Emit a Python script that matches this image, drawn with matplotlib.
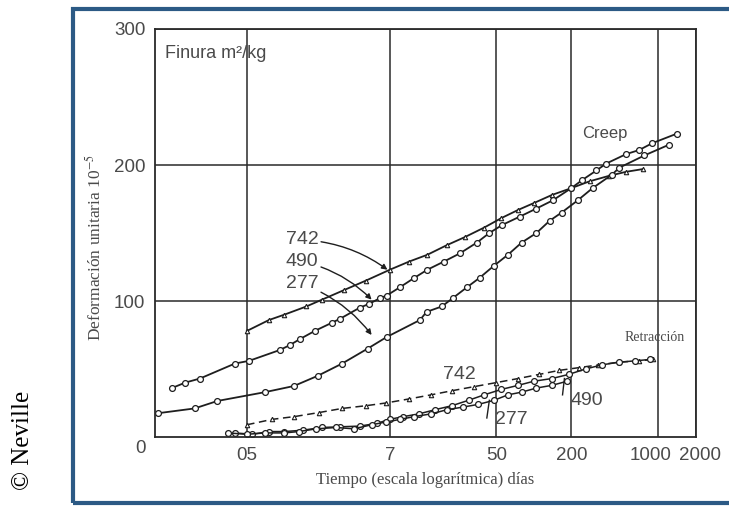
import matplotlib
matplotlib.use("Agg")
import matplotlib.pyplot as plt
import matplotlib.transforms as mtransforms
from matplotlib.patches import Rectangle

# ---------------- data ----------------
xtick_vals = [0.5, 7, 50, 200, 1000, 2000]
xtick_labels = ["05", "7", "50", "200", "1000", "2000"]
ytick_vals = [100, 200, 300]
ytick_labels = ["100", "200", "300"]

# Creep curves (days, deformation 1e-5)
creep_742_days = [0.5, 0.75, 1.0, 1.5, 2.0, 3.0, 4.5, 7, 10, 14, 20, 28, 40, 55, 75, 100, 140, 200, 280, 400, 550, 750]
creep_742_vals = [78, 86, 90, 96, 101, 108, 115, 123, 129, 134, 141, 147, 154, 161, 167, 172, 178, 183, 188, 192, 195, 197]

creep_490_days = [0.125, 0.16, 0.21, 0.40, 0.52, 0.92, 1.1, 1.33, 1.75, 2.4, 2.8, 4.0, 4.8, 5.8, 6.6, 8.4, 11, 14, 19, 25.5,
                  35, 44, 56, 77, 105, 142, 200, 245, 318, 380, 550, 700, 890, 1400]
creep_490_vals = [36, 40, 43, 54, 56, 64, 67.5, 72, 78, 84, 87, 95, 98, 102, 104, 110, 117, 123, 129, 135,
                  143, 150, 156, 162, 168, 174, 183, 189, 196, 201, 208, 211, 216, 223]

creep_277_days = [0.097, 0.19, 0.29, 0.70, 1.19, 1.85, 2.9, 4.65, 6.6, 12.2, 13.8, 18.3, 22.3, 29, 36.7, 48, 62, 80,
                  105, 134, 167, 225, 296, 425, 485, 770, 1220]
creep_277_vals = [17.5, 21, 26.5, 33, 37.5, 45, 54, 65, 73.5, 86, 92, 96, 102, 110, 117, 126, 134, 143,
                  150, 159, 165, 174, 183, 193, 198, 207, 215]

# Shrinkage curves
shr_742_days = [0.5, 0.8, 1.2, 1.9, 2.9, 4.5, 6.5, 10, 15, 22, 33, 50, 75, 110, 160, 230, 330, 480, 700, 900]
shr_742_vals = [9, 13, 15, 18, 21, 23, 25, 28, 31, 34, 37, 40, 43, 46, 49, 51, 53, 55, 56, 57]

shr_490_days = [0.4, 0.55, 0.75, 1.0, 1.4, 2.0, 2.8, 4.0, 5.5, 7, 9, 12, 16, 22, 30, 40, 55, 75, 100, 140, 190, 260,
                350, 480, 650, 850]
shr_490_vals = [3, 2, 4, 4, 5, 7, 7.5, 8, 10, 13, 15, 17, 20, 23, 27, 31, 35, 38, 41, 43, 46, 50, 53, 55, 56, 57]

shr_277_days = [0.35, 0.5, 0.7, 1.0, 1.3, 1.8, 2.6, 3.6, 5, 6.5, 8.5, 11, 15, 20, 27, 36, 48, 62, 80, 105, 140, 185]
shr_277_vals = [3, 2, 3, 3, 4, 6, 7, 6, 9, 11, 13, 15, 17, 20, 22, 24, 27, 31, 33, 36, 38, 41]

# ---------------- figure ----------------
W, H = 729, 509
plt.rcParams["mathtext.fontset"] = "stix"
fig = plt.figure(figsize=(W / 100, H / 100), dpi=100)
fig.patch.set_facecolor("white")

# blue frame
fig.patches.append(Rectangle((73 / W, 1 - 503 / H), (740 - 73) / W, (503 - 9) / H,
                             transform=fig.transFigure, fill=False,
                             edgecolor="#2c5a85", linewidth=3.0, zorder=0))

ax = fig.add_axes([155 / W, 1 - 437 / H, (696 - 155) / W, (437 - 29) / H])
ax.set_xscale("log")
ax.set_xlim(0.0915, 1980)
ax.set_ylim(0, 300)

sans = ["Liberation Sans Narrow", "Liberation Sans", "DejaVu Sans"]
serif = ["Liberation Serif", "DejaVu Serif"]
gray = "#4a4a4a"

ax.set_xticks(xtick_vals)
ax.set_xticklabels(xtick_labels)
ax.set_yticks(ytick_vals)
ax.set_yticklabels(ytick_labels)
ax.xaxis.set_minor_locator(matplotlib.ticker.NullLocator())
ax.tick_params(axis="both", length=0, labelsize=13.5, labelcolor=gray, pad=7)
for lab in ax.get_xticklabels() + ax.get_yticklabels():
    lab.set_family(sans)
# nudge the crowded right-hand labels as in the reference
shifts = {"1000": -8, "2000": 4}
for lab in ax.get_xticklabels():
    dx = shifts.get(lab.get_text(), 0)
    if dx:
        lab.set_transform(lab.get_transform() + mtransforms.ScaledTranslation(dx / 100, 0, fig.dpi_scale_trans))

ax.text(-0.018, -0.028, "0", transform=ax.transAxes, ha="right", va="center",
        fontsize=13.5, color=gray, family=sans)

ax.grid(True, which="major", color="#2a2a2a", linewidth=1.1)
for s in ax.spines.values():
    s.set_color("#2a2a2a")
    s.set_linewidth(1.3)

lc = "#1e1e1e"
circ = dict(marker="o", ms=4.2, mfc="white", mec=lc, mew=0.9)
tri = dict(marker="^", ms=3.2, mfc="white", mec=lc, mew=0.8)

ax.plot(creep_742_days, creep_742_vals, color=lc, lw=1.3, **tri)
ax.plot(creep_490_days, creep_490_vals, color=lc, lw=1.3, **circ)
ax.plot(creep_277_days, creep_277_vals, color=lc, lw=1.3, **circ)

ax.plot(shr_742_days, shr_742_vals, color=lc, lw=1.1, ls=(0, (5, 3)), **tri)
ax.plot(shr_490_days, shr_490_vals, color=lc, lw=1.1, **circ)
ax.plot(shr_277_days, shr_277_vals, color=lc, lw=1.1, **circ)

# labels on creep curves
lab_kw = dict(fontsize=14, color=gray, family=sans, ha="center", va="center")
arrow_kw = dict(arrowstyle="-|>", color=lc, lw=1.0, mutation_scale=8,
                connectionstyle="arc3,rad=-0.15", shrinkA=0, shrinkB=0)
ax.annotate("742", xy=(6.7, 123), xytext=(1.38, 145), arrowprops=arrow_kw, **lab_kw)
ax.annotate("490", xy=(5.0, 101), xytext=(1.38, 129), arrowprops=arrow_kw, **lab_kw)
ax.annotate("277", xy=(5.0, 75), xytext=(1.38, 112.5), arrowprops=arrow_kw, **lab_kw)

# labels on shrinkage curves
ax.text(25.4, 46, "742", **lab_kw)
ax.text(66, 12.5, "277", **lab_kw)
ax.text(265, 27, "490", **lab_kw)
ax.plot([42, 44], [14, 27], color=lc, lw=1.0)
ax.plot([170, 176], [31, 43], color=lc, lw=1.0)

ax.text(370, 223.5, "Creep", fontsize=12, color=gray, family=sans, ha="center", va="center")
ax.text(929, 72.8, "Retracción", fontsize=10, color=gray, family=serif, ha="center", va="center")
ax.text(0.018, 0.94, "Finura m²/kg", transform=ax.transAxes, fontsize=13, color=gray,
        family=sans, ha="left", va="center")

ax.set_ylabel(r"Deformación unitaria 10$^{-5}$", fontsize=12.5, color=gray, family=serif)
ax.yaxis.set_label_coords((105 - 155) / (696 - 155), (437 - 248) / (437 - 29))
ax.set_xlabel("Tiempo (escala logarítmica) días", fontsize=12, color=gray, family=serif)
ax.xaxis.set_label_coords((425 - 155) / (696 - 155), -(472 - 437) / (437 - 29))

fig.text(23 / W, 1 - 440 / H, "© Neville", rotation=90, fontsize=18, family=serif,
         color="black", ha="center", va="center")

fig.savefig("out.png", dpi=100)
